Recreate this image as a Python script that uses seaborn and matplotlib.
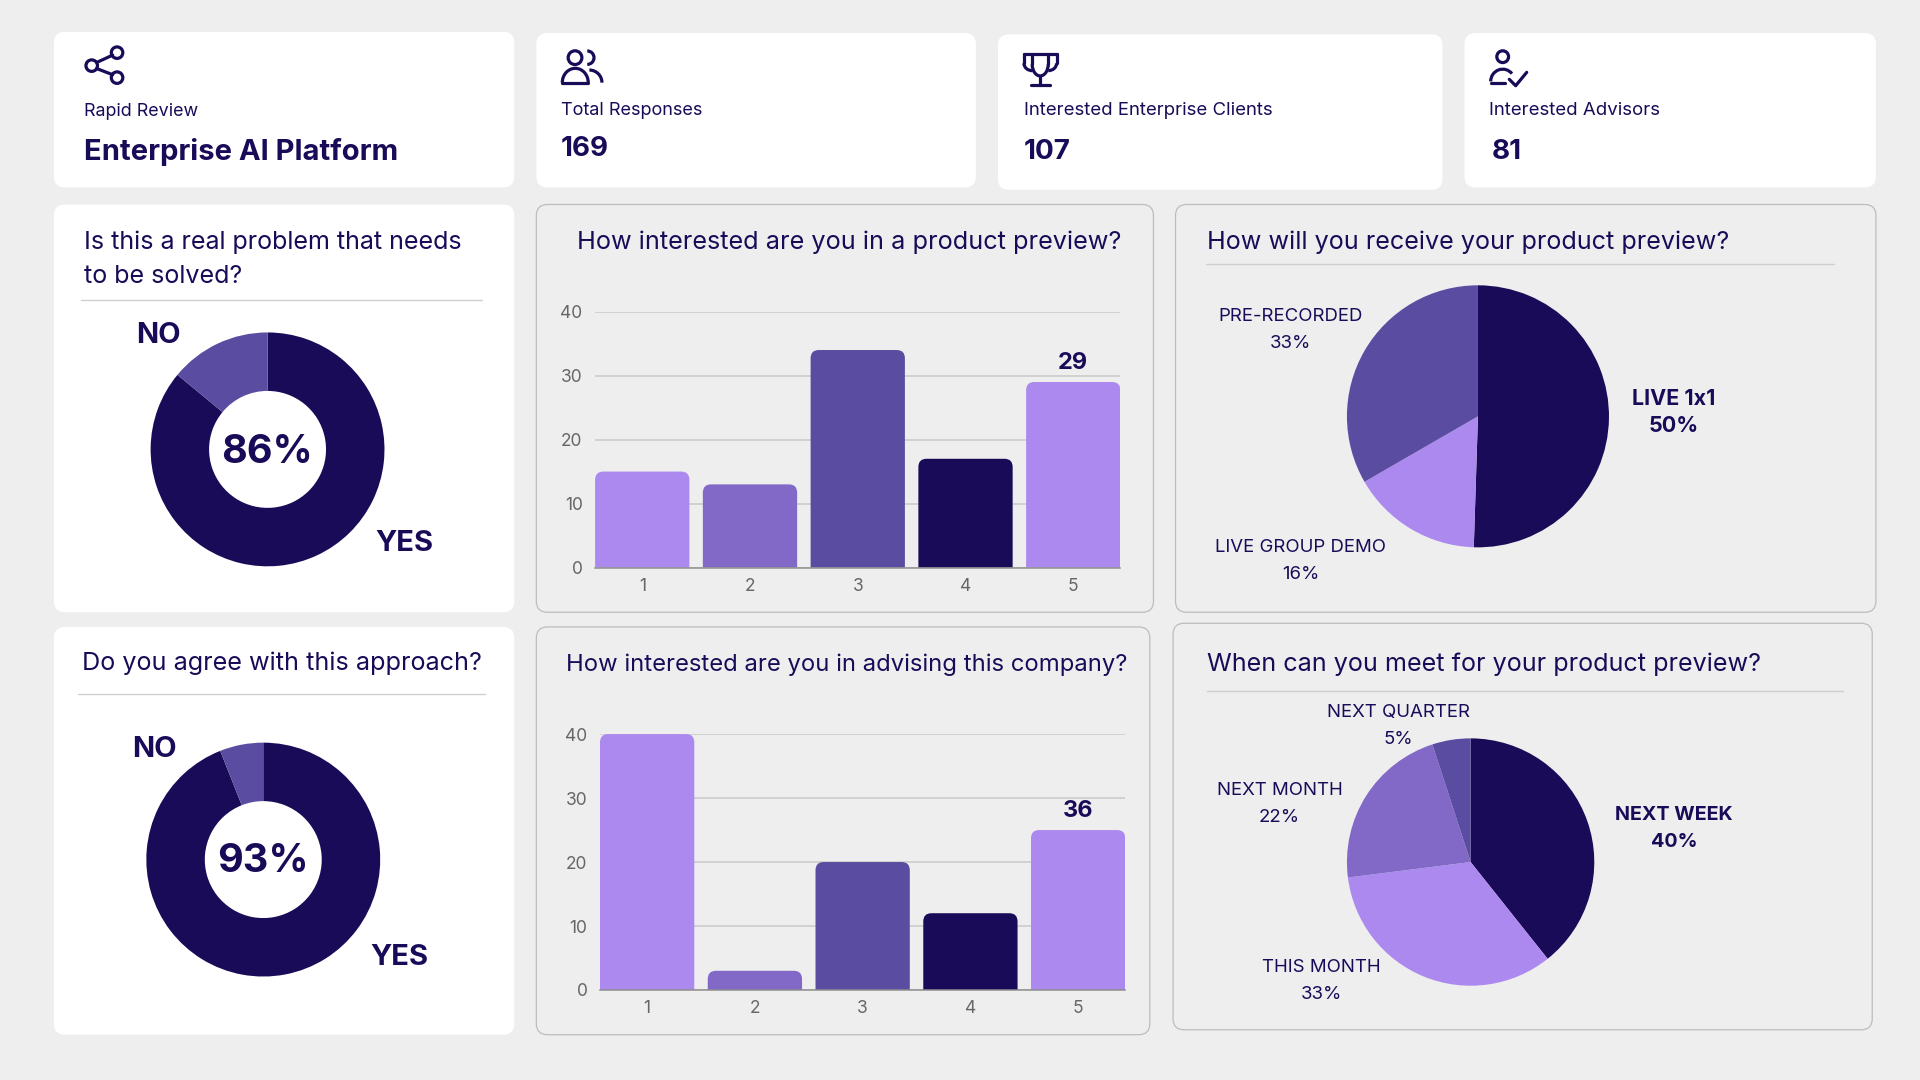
import matplotlib
matplotlib.use('Agg')
import matplotlib.pyplot as plt
from matplotlib.patches import FancyBboxPatch, Circle, Arc, PathPatch
from matplotlib.path import Path
import pandas as pd
import seaborn as sns

bg = '#EEEEEE'
dark = '#1A0B58'
light = '#AC89EF'
mid = '#8269C7'
deep = '#5A4CA0'

# data
scores = ['1', '2', '3', '4', '5']
previewCounts = [15, 13, 34, 17, 29]
advisingCounts = [40, 3, 20, 12, 25]
barColors = [light, mid, deep, dark, light]
yTicks = [0, 10, 20, 30, 40]
realProblem = [86, 14]
agreeApproach = [94, 6]  # slice as drawn, the label in the middle says 93%
receiveLabels = ['LIVE 1x1', 'LIVE GROUP DEMO', 'PRE-RECORDED']
receiveShares = [50, 16, 33]
meetLabels = ['NEXT WEEK', 'THIS MONTH', 'NEXT MONTH', 'NEXT QUARTER']
meetShares = [40, 33, 22, 5]
meetSlices = [39.3, 33.7, 22, 5]  # slices as drawn

sns.set_theme(style='whitegrid')
plt.rcParams['font.family'] = ['Inter', 'DejaVu Sans']

fig = plt.figure(figsize=(19.2, 10.8), dpi=100, facecolor=bg)
W, H = 1568.0, 882.0

# everything on the page is placed in the coordinates of a 1568x882 layout
page = fig.add_axes([0, 0, 1, 1], zorder=0)
page.set_xlim(0, W)
page.set_ylim(H, 0)
page.axis('off')


def card(x0, y0, x1, y1, outline=False):
    page.add_patch(FancyBboxPatch((x0, y0), x1 - x0, y1 - y0, boxstyle='round,pad=0,rounding_size=9',
                                  fc=bg if outline else 'white', ec='#BDBDBD' if outline else 'none', lw=0.9))


def txt(x, y, s, size, ha='left', weight='normal', color=dark):
    page.text(x, y + size * 0.1, s, fontsize=size, ha=ha, va='center', fontweight=weight, color=color)


def rule(x0, x1, y):
    page.plot([x0, x1], [y, y], color='#CFCFCF', lw=1)


def sub_axes(x0, y0, x1, y1):
    ax = fig.add_axes([x0 / W, 1 - y1 / H, (x1 - x0) / W, (y1 - y0) / H], zorder=2)
    ax.patch.set_alpha(0)
    return ax


def bar_chart(x0, y0, x1, y1, counts, shown):
    ax = sub_axes(x0, y0, x1, y1)
    df = pd.DataFrame({'score': scores, 'count': counts})
    sns.barplot(df, x='score', y='count', hue='score', palette=barColors, width=0.875, dodge=False,
                legend=False, saturation=1, linewidth=0, ax=ax)
    ax.set_xlim(-0.4375, 4.4375)
    ax.set_ylim(0, 40)
    ax.set_yticks(yTicks)
    ax.set_xlabel('')
    ax.set_ylabel('')
    ax.set_axisbelow(True)
    ax.grid(axis='y', color='#C9C9C9', lw=1.1)
    ax.grid(axis='x', visible=False)
    for s in ['top', 'left', 'right']:
        ax.spines[s].set_visible(False)
    ax.spines['bottom'].set_color('#8E8E8E')
    ax.spines['bottom'].set_linewidth(1.1)
    ax.tick_params(axis='x', length=0, labelsize=12.5, labelcolor='#666666', pad=7.5)
    ax.tick_params(axis='y', length=0, labelsize=12.5, labelcolor='#666666', pad=9)
    ax.bar_label(ax.containers[4], labels=[shown], padding=6, fontsize=17, fontweight='bold', color=dark)
    # swap each bar for the same bar with rounded top corners
    rx, ry = 0.075, 1.3
    for p in list(ax.patches):
        a, b, h = p.get_x(), p.get_x() + p.get_width(), p.get_height()
        verts = [(a, 0), (a, h - ry), (a, h), (a + rx, h), (b - rx, h), (b, h), (b, h - ry), (b, 0), (a, 0)]
        codes = [Path.MOVETO, Path.LINETO, Path.CURVE3, Path.CURVE3, Path.LINETO, Path.CURVE3, Path.CURVE3,
                 Path.LINETO, Path.CLOSEPOLY]
        ax.add_patch(PathPatch(Path(verts, codes), fc=p.get_facecolor(), lw=0, zorder=p.get_zorder()))
        p.set_visible(False)


def donut(cx, cy, r, values):
    ax = sub_axes(cx - r, cy - r, cx + r, cy + r)
    ax.pie(values, colors=[dark, deep], startangle=90, counterclock=False, radius=1,
           wedgeprops=dict(width=0.5, linewidth=0))
    ax.set_xlim(-1, 1)
    ax.set_ylim(-1, 1)


def pie(cx, cy, r, values, colors):
    ax = sub_axes(cx - r, cy - r, cx + r, cy + r)
    ax.pie(values, colors=colors, startangle=90, counterclock=False, radius=1, wedgeprops=dict(linewidth=0))
    ax.set_xlim(-1, 1)
    ax.set_ylim(-1, 1)


def stacked(x, y, top, bottom, size=13.4, weight='normal'):
    txt(x, y - 11, top, size, ha='center', weight=weight)
    txt(x, y + 11, bottom, size, ha='center', weight=weight)


def stroke(xs, ys):
    page.plot(xs, ys, color=dark, lw=2.3, solid_capstyle='round')


def arc(cx, cy, w, h, t0, t1):
    page.add_patch(Arc((cx, cy), w, h, theta1=t0, theta2=t1, ec=dark, lw=2.3))


# header cards
card(44, 26, 420, 153)
card(438, 27, 797, 153)
card(815, 28, 1178, 155)
card(1196, 27, 1532, 153)
txt(69, 90, 'Rapid Review', 12.9)
txt(69, 122, 'Enterprise AI Platform', 21, weight='bold')
txt(458, 89, 'Total Responses', 13)
txt(458, 120, '169', 20, weight='bold')
txt(836, 89, 'Interested Enterprise Clients', 13.4)
txt(836, 122, '107', 20, weight='bold')
txt(1216, 89, 'Interested Advisors', 13.4)
txt(1218, 122, '81', 20, weight='bold')

# share icon
stroke([79, 92], [51, 45])
stroke([79, 92], [56, 61])
for c in [(95.6, 43), (95.6, 63.4), (74.9, 53.6)]:
    page.add_patch(Circle(c, 4.7, fc='white', ec=dark, lw=2.3))

# people icon
page.add_patch(Circle((469.6, 47.1), 5.6, fc='none', ec=dark, lw=2.3))
arc(469.8, 67.5, 21.2, 23.4, 180, 360)
stroke([459.2, 480.4], [67.5, 67.5])
arc(479.6, 47.1, 11, 11, 270, 90)
arc(481.3, 67.5, 20.6, 20.6, 270, 360)

# trophy icon
stroke([836.2, 862.9], [44.1, 44.1])
stroke([843, 843], [44.1, 52.5])
stroke([856.1, 856.1], [44.1, 52.5])
arc(849.5, 52.5, 13.1, 19, 0, 180)
stroke([836.2, 836.2], [44.1, 51.7])
stroke([862.9, 862.9], [44.1, 51.7])
arc(843, 51.7, 13.6, 12, 90, 180)
arc(856.1, 51.7, 13.6, 12, 0, 90)
stroke([849.6, 849.6], [62, 69.7])
stroke([842, 857.5], [69.7, 69.7])

# advisor icon
page.add_patch(Circle((1227.2, 46.3), 4.8, fc='none', ec=dark, lw=2.3))
arc(1227.2, 66.5, 19.6, 20, 180, 320)
stroke([1217.4, 1229], [67.5, 67.5])
stroke([1232.6, 1237.8, 1246.8], [64.8, 70, 59.1])

# body cards
card(44, 167, 420, 500)
card(44, 512, 420, 845)
card(438, 167, 942, 500, True)
card(960, 167, 1532, 500, True)
card(438, 512, 939, 845, True)
card(958, 509, 1529, 841, True)

txt(68.5, 196, 'Is this a real problem that needs', 18.05)
txt(68.5, 224, 'to be solved?', 18.05)
rule(66, 394, 245)
txt(67, 540, 'Do you agree with this approach?', 18.15)
rule(64, 396, 567)
txt(471, 196, 'How interested are you in a product preview?', 18.2)
txt(986, 196, 'How will you receive your product preview?', 18.1)
rule(985, 1498, 216)
txt(462, 541, 'How interested are you in advising this company?', 17.15)
txt(986, 541, 'When can you meet for your product preview?', 18.1)
rule(986, 1505, 564)

# donuts
donut(218.5, 367, 95.5, realProblem)
txt(218, 367, '86%', 28.5, ha='center', weight='bold')
txt(129, 272, 'NO', 21, ha='center', weight='bold')
txt(330, 442, 'YES', 21, ha='center', weight='bold')
donut(215, 702, 95.5, agreeApproach)
txt(215, 701, '93%', 28.5, ha='center', weight='bold')
txt(126, 610, 'NO', 21, ha='center', weight='bold')
txt(326, 780, 'YES', 21, ha='center', weight='bold')

# bars
bar_chart(486, 254.5, 915, 463.5, previewCounts, '29')
bar_chart(490, 599.5, 919, 808.5, advisingCounts, '36')

# pies
pie(1207, 340, 107, receiveShares, [dark, light, deep])
stacked(1054, 268, receiveLabels[2], f'{receiveShares[2]}%')
stacked(1367, 335, receiveLabels[0], f'{receiveShares[0]}%', size=15.5, weight='bold')
stacked(1062, 457, receiveLabels[1], f'{receiveShares[1]}%')
pie(1201, 704, 101, meetSlices, [dark, light, mid, deep])
stacked(1367, 675, meetLabels[0], f'{meetShares[0]}%', size=14.2, weight='bold')
stacked(1079, 800, meetLabels[1], f'{meetShares[1]}%')
stacked(1045, 655, meetLabels[2], f'{meetShares[2]}%')
stacked(1142, 591.5, meetLabels[3], f'{meetShares[3]}%')

fig.savefig('out.png', dpi=100, facecolor=bg)
